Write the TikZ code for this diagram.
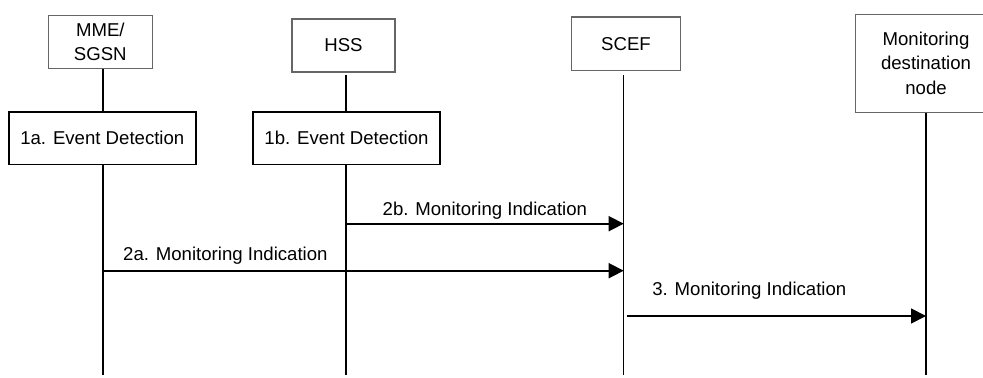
\documentclass[tikz,border=0pt]{standalone}
\usepackage{fontspec}
\setmainfont{Liberation Sans}
\usetikzlibrary{arrows.meta}
\begin{document}
\begin{tikzpicture}[x=0.5pt,y=-0.5pt,
  every node/.style={font=\fontsize{9.3pt}{12.3pt}\selectfont, inner sep=0pt, align=center},
  entity/.style={draw=black!60, line width=0.55pt, fill=white},
  eventbox/.style={draw=black, line width=0.85pt, minimum width=93.6pt, minimum height=26.2pt},
  life/.style={line width=0.7pt},
  msg/.style={line width=0.85pt, -{Triangle[length=7.5pt,width=7.5pt]}}]
\useasboundingbox (0,0) rectangle (983,378);
% entity boxes
\node[entity, minimum width=52pt, minimum height=26.6pt] (mme) at (100.3,41.7) {MME/\\SGSN};
\node[entity, minimum width=51.5pt, minimum height=26.5pt] (hss) at (343.5,45.5) {HSS};
\node[entity, minimum width=54.3pt, minimum height=26.8pt] (scef) at (626,43.8) {SCEF};
\node[entity, minimum width=70.7pt, minimum height=49pt] (mdn) at (926,63.3) {Monitoring\\destination\\node};
% event boxes
\node[eventbox] (e1a) at (102.3,138.2) {1a. Event Detection};
\node[eventbox] (e1b) at (346.5,138.2) {1b. Event Detection};
% lifeline ends
\coordinate (mmeEnd) at (103,375);
\coordinate (hssEnd) at (346,375);
\coordinate (scefEnd) at (623.7,375);
\coordinate (mdnEnd) at (926,375);
% lifelines
\draw[life] (mme.south -| mmeEnd) -- (e1a.north -| mmeEnd);
\draw[life] (e1a.south -| mmeEnd) -- (mmeEnd);
\draw[life] ([yshift=-1pt]hss.south -| hssEnd) -- (e1b.north -| hssEnd);
\draw[life] (e1b.south -| hssEnd) -- (hssEnd);
\draw[life] ([yshift=-2pt]scef.south -| scefEnd) -- (scefEnd);
\draw[life] (mdn.south -| mdnEnd) -- (mdnEnd);
% messages
\coordinate (m2bs) at (346,223.7);
\coordinate (m2as) at (103,270.7);
\coordinate (m3s) at (626.5,316);
\draw[msg] (m2bs) -- (m2bs -| scefEnd) node[pos=0.5, above=1.8pt] {2b. Monitoring Indication};
\draw[msg] (m2as) -- (m2as -| scefEnd) node[pos=0.235, above=2.5pt] {2a. Monitoring Indication};
\draw[msg] (m3s) -- (m3s -| mdnEnd) node[pos=0.41, above=8pt] {3. Monitoring Indication};
\end{tikzpicture}
\end{document}
